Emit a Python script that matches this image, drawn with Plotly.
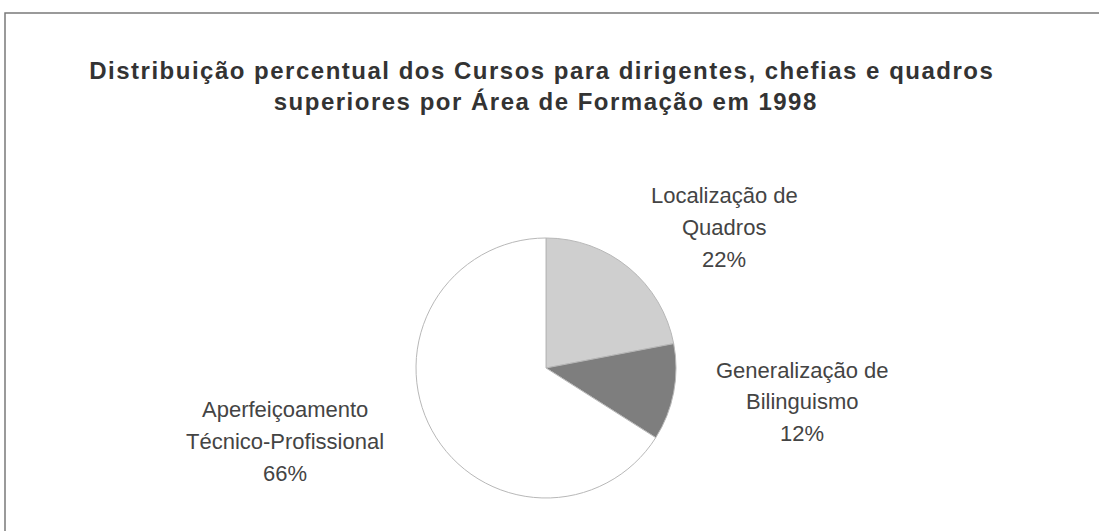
import plotly.graph_objects as go

# Data
title_lines = ["Distribuição percentual dos Cursos para dirigentes, chefias e quadros",
               "superiores por Área de Formação em 1998"]
categories = ["Localização de Quadros", "Generalização de Bilinguismo",
              "Aperfeiçoamento Técnico-Profissional"]
label_lines = [["Localização de", "Quadros"],
               ["Generalização de", "Bilinguismo"],
               ["Aperfeiçoamento", "Técnico-Profissional"]]
values = [22, 12, 66]

W, H = 1099, 531
slice_colors = ["#cfcfcf", "#7e7e7e", "#ffffff"]

cx, cy, r = 546, 368, 130

fig = go.Figure(go.Pie(
    labels=categories,
    values=values,
    sort=False,
    direction="clockwise",
    rotation=0,
    textinfo="none",
    hoverinfo="label+percent",
    marker=dict(colors=slice_colors, line=dict(color="#b8b8b8", width=1)),
    domain=dict(x=[(cx - r) / W, (cx + r) / W], y=[(H - cy - r) / H, (H - cy + r) / H]),
    showlegend=False,
))

annotations = []
# Title lines
title_pos = [(542, 70), (546, 101)]
for t, (x, y) in zip(title_lines, title_pos):
    annotations.append(dict(text="<b>" + t + "</b>", x=x / W, y=1 - y / H, xref="paper", yref="paper",
                            xanchor="center", yanchor="middle", showarrow=False,
                            font=dict(family="Liberation Sans, Arial", size=24, color="#333333")))

# Slice labels
label_pos = [(724, [195, 227, 259]), (802, [370, 401, 433]), (285, [409, 441, 473])]
for lines, v, (x, ys) in zip(label_lines, values, label_pos):
    texts = lines + [f"{v}%"]
    for t, y in zip(texts, ys):
        annotations.append(dict(text=t, x=x / W, y=1 - y / H, xref="paper", yref="paper",
                                xanchor="center", yanchor="middle", showarrow=False,
                                font=dict(family="Liberation Sans, Arial", size=22, color="#444444")))

fig.update_layout(
    width=W, height=H,
    margin=dict(l=0, r=0, t=0, b=0),
    paper_bgcolor="white", plot_bgcolor="white",
    annotations=annotations,
    shapes=[dict(type="rect", xref="paper", yref="paper",
                 x0=5 / W, x1=1.02, y0=-0.02, y1=1 - 13 / H,
                 line=dict(color="#7a7a7a", width=1.5))],
)

post = """
document.body.style.margin = '0px';
function spaceTitle(){
  var els = document.querySelectorAll('.annotation-text');
  for (var i = 0; i < 2 && i < els.length; i++) { els[i].style.letterSpacing = '1.5px'; }
}
spaceTitle();
var gd = document.getElementById('{plot_id}');
if (gd && gd.on) { gd.on('plotly_afterplot', spaceTitle); }
"""

fig.write_html("out.html", post_script=post, config={"displayModeBar": False})
